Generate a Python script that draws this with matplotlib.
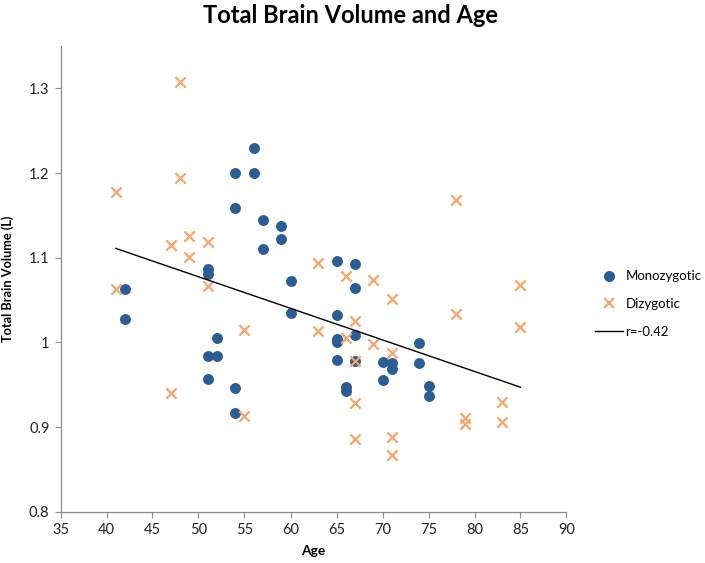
import matplotlib
matplotlib.use("Agg")
import matplotlib.pyplot as plt
from matplotlib.lines import Line2D

mz_age = [42, 42, 51, 51, 51, 51, 52, 52, 54, 54, 54, 54, 56, 56, 57, 57, 59, 59, 60, 60,
          65, 65, 65, 65, 65, 66, 66, 67, 67, 67, 67, 70, 70, 71, 71, 74, 74, 75, 75]
mz_vol = [1.063, 1.027, 1.087, 1.081, 0.984, 0.957, 1.005, 0.984, 1.200, 1.159, 0.946, 0.916,
          1.230, 1.200, 1.144, 1.110, 1.137, 1.122, 1.072, 1.035,
          1.096, 1.032, 1.004, 1.000, 0.979, 0.947, 0.942, 1.092, 1.064, 1.009, 0.978,
          0.977, 0.956, 0.976, 0.968, 0.999, 0.976, 0.949, 0.937]

dz_age = [41, 41, 47, 47, 48, 48, 49, 49, 51, 51, 55, 55, 63, 63, 66, 66, 67, 67, 67, 67,
          69, 69, 71, 71, 71, 71, 78, 78, 79, 79, 83, 83, 85, 85]
dz_vol = [1.177, 1.063, 1.115, 0.940, 1.308, 1.194, 1.126, 1.101, 1.118, 1.066, 1.015, 0.913,
          1.094, 1.013, 1.078, 1.005, 1.025, 0.978, 0.928, 0.886,
          1.074, 0.998, 1.051, 0.988, 0.888, 0.867, 1.168, 1.034, 0.911, 0.904,
          0.929, 0.906, 1.068, 1.018]

trend_age = [41, 85]
trend_vol = [1.111, 0.947]

x_ticks = [35, 40, 45, 50, 55, 60, 65, 70, 75, 80, 85, 90]
y_ticks = [0.8, 0.9, 1.0, 1.1, 1.2, 1.3]
y_labels = ["0.8", "0.9", "1", "1.1", "1.2", "1.3"]

blue = "#2B5D94"
orange = "#F2A66B"
font = ["Lato", "DejaVu Sans"]
plt.rcParams['font.family'] = font

fig = plt.figure(figsize=(7.05, 5.63), dpi=100)
ax = fig.add_axes([60.5 / 705, (563 - 511.7) / 563, (566.5 - 60.5) / 705, (511.7 - 46) / 563])

ax.scatter(mz_age, mz_vol, s=62, color=blue, marker='o', linewidths=0, zorder=3)
ax.scatter(dz_age, dz_vol, s=55, color=orange, marker='x', linewidths=1.6, zorder=4)
ax.plot(trend_age, trend_vol, color='black', linewidth=1.0, zorder=5)

ax.set_xlim(35, 90)
ax.set_ylim(0.8, 1.35)
ax.set_xticks(x_ticks)
ax.set_xticklabels([str(t) for t in x_ticks])
ax.set_yticks(y_ticks)
ax.set_yticklabels(y_labels)
for s in ['top', 'right']:
    ax.spines[s].set_visible(False)
for s in ['left', 'bottom']:
    ax.spines[s].set_color('#8c8c8c')
    ax.spines[s].set_linewidth(0.9)
ax.tick_params(axis='both', direction='out', length=4, color='#8c8c8c', labelsize=10.5,
               labelcolor='#222222', pad=4)

ax.set_xlabel("Age", fontsize=10, fontweight='bold', labelpad=6)
ax.set_ylabel("Total Brain Volume (L)", fontsize=9.2, fontweight='bold', labelpad=11)
fig.text(0.497, 0.993, "Total Brain Volume and Age", ha='center', va='top',
         fontsize=17, fontweight='bold')

handles = [
    Line2D([0], [0], marker='o', color='none', markerfacecolor=blue, markeredgewidth=0, markersize=8),
    Line2D([0], [0], marker='x', color='none', markeredgecolor=orange, markeredgewidth=1.6, markersize=7),
    Line2D([0], [0], color='black', linewidth=1.0),
]
fig.legend(handles, ["Monozygotic", "Dizygotic", "r=-0.42"], loc='center left',
           bbox_to_anchor=(595 / 705, 1 - 304 / 563), frameon=False, fontsize=9.5,
           borderpad=0, borderaxespad=0,
           handlelength=2.1, labelspacing=1.2, handletextpad=0.2)

fig.savefig("out.png", dpi=100)
